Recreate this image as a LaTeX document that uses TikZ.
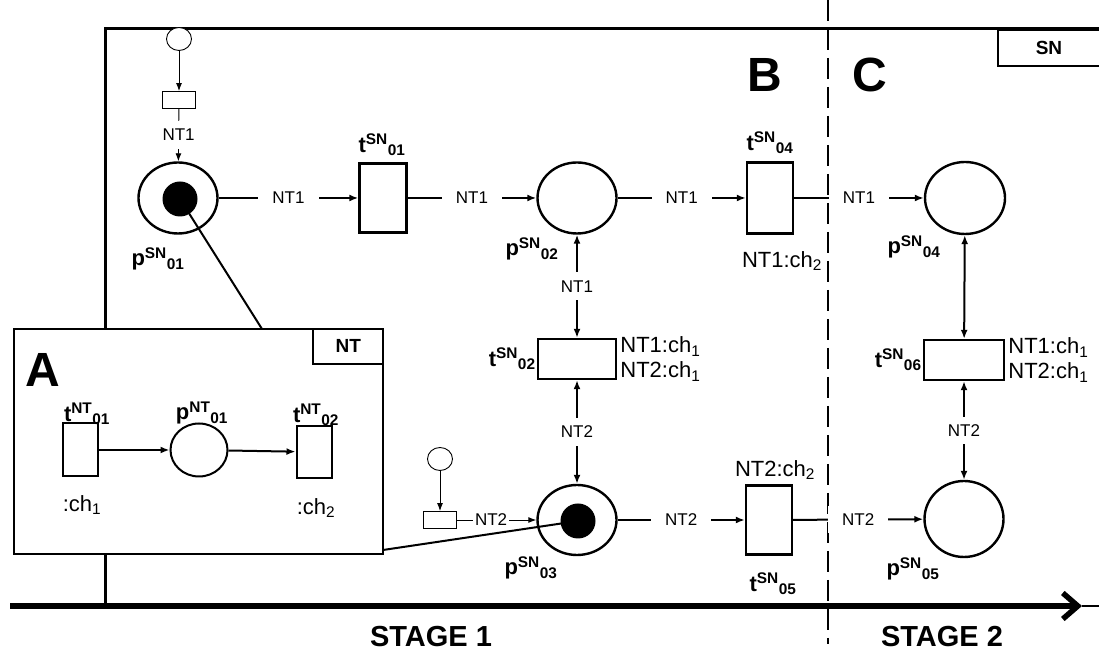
\documentclass[tikz,border=0pt]{standalone}
\usepackage{fontspec}
\setmainfont{Liberation Sans}
\usetikzlibrary{arrows.meta,shapes.geometric,calc}
\tikzset{
  place/.style={draw, ellipse, line width=2.4pt, fill=white, inner sep=0pt, minimum width=79pt, minimum height=71pt},
  trans/.style={draw, rectangle, line width=2.4pt, fill=white, inner sep=0pt},
  token/.style={circle, fill=black, inner sep=0pt, minimum size=35pt},
  srcplace/.style={draw, ellipse, line width=0.9pt, fill=white, inner sep=0pt, minimum width=25pt, minimum height=23pt},
  srctrans/.style={draw, rectangle, line width=0.9pt, fill=white, inner sep=0pt, minimum width=33pt, minimum height=17pt},
  arc/.style={-{Latex[length=9pt,width=7pt]}, line width=2pt},
  biarc/.style={{Latex[length=9pt,width=7pt]}-{Latex[length=9pt,width=7pt]}, line width=2pt},
  thinarc/.style={-{Latex[length=8pt,width=6pt]}, line width=0.9pt},
  arclbl/.style={fill=white, inner xsep=14pt, inner ysep=8pt, font=\fontsize{17}{20}\selectfont},
  netlbl/.style={font=\bfseries\fontsize{22}{26}\selectfont, inner sep=1pt},
  guard/.style={font=\fontsize{22}{25}\selectfont, inner sep=0pt},
  bigletter/.style={font=\bfseries\fontsize{48}{50}\selectfont},
  stagelbl/.style={font=\bfseries\fontsize{29}{32}\selectfont},
  tablbl/.style={draw, line width=2pt, fill=white, font=\bfseries\fontsize{19}{22}\selectfont}
}
\newcommand{\netname}[3]{\textbf{#1\textsuperscript{#2}\textsubscript{#3}}}

\begin{document}
\begin{tikzpicture}[x=1pt,y=1pt]
  \useasboundingbox (0,0) rectangle (1099,652);

  % SN frame and stages
  \draw[line width=3pt] (1110,623) -- (105,623) -- (105,46);
  \node[tablbl, minimum width=102pt, minimum height=36pt, anchor=north west] (sntab) at (997,623) {SN\hspace{6pt}};
  \draw[line width=2pt, dash pattern=on 21pt off 8pt] (828,652) -- (828,8);
  \coordinate (axisstart) at (10,46);
  \coordinate (axisend) at (1082,46);
  \coordinate (axistail) at (1099,46);
  \draw[line width=1.5pt] (axisend) -- (axistail);
  \draw[line width=5.5pt, -{Straight Barb[length=15pt,width=26pt]}] (axisstart) -- (axisend);
  \node[bigletter] (lblB) at (765,577) {B};
  \node[bigletter] (lblC) at (870,577) {C};
  \node[stagelbl] (stage1) at (431,15) {STAGE 1};
  \node[stagelbl] (stage2) at (942,15) {STAGE 2};

  % places and transitions of SN
  \node[srcplace] (src1) at (179,613) {};
  \node[srctrans] (srct1) at (179,552) {};
  \node[place] (p01) at (178,454) {};
  \node[token] (tok01) at (180,453) {};
  \node[trans, minimum width=47pt, minimum height=69pt] (t01) at (383,454) {};
  \node[place] (p02) at (577,454) {};
  \node[trans, minimum width=46pt, minimum height=71pt] (t04) at (770,454) {};
  \node[place, minimum width=80pt, minimum height=72pt] (p04) at (965,454) {};
  \node[trans, minimum width=78pt, minimum height=40pt] (t02) at (577,293) {};
  \node[trans, minimum width=80pt, minimum height=40pt] (t06) at (964,292) {};
  \node[srcplace] (src2) at (440,193) {};
  \node[srctrans] (srct2) at (440,132) {};
  \node[place, minimum height=70pt] (p03) at (577,132) {};
  \node[token] (tok03) at (578,131) {};
  \node[trans, minimum width=46pt, minimum height=69pt] (t05) at (769,132) {};
  \node[place, minimum width=79pt, minimum height=76pt] (p05) at (964,133) {};

  % names and guards
  \node[netlbl] at (158,393) {\netname{p}{SN}{01}};
  \node[netlbl] at (382,507) {\netname{t}{SN}{01}};
  \node[netlbl] at (532,403) {\netname{p}{SN}{02}};
  \node[netlbl] at (770,509) {\netname{t}{SN}{04}};
  \node[guard] at (782,391) {NT1:ch\textsubscript{2}};
  \node[netlbl] at (914,405) {\netname{p}{SN}{04}};
  \node[netlbl, anchor=east] at (t02.west) {\netname{t}{SN}{02}};
  \node[guard, anchor=west, align=left] at ($(t02.east)+(3,0)$) {NT1:ch\textsubscript{1}\\NT2:ch\textsubscript{1}};
  \node[netlbl, anchor=east] at (t06.west) {\netname{t}{SN}{06}};
  \node[guard, anchor=west, align=left] at ($(t06.east)+(3,0)$) {NT1:ch\textsubscript{1}\\NT2:ch\textsubscript{1}};
  \node[netlbl] at (531,84) {\netname{p}{SN}{03}};
  \node[guard] at (775,182) {NT2:ch\textsubscript{2}};
  \node[netlbl] at (773,68) {\netname{t}{SN}{05}};
  \node[netlbl] at (913,83) {\netname{p}{SN}{05}};

  % arcs of SN
  \draw[thinarc] (src1) -- (srct1);
  \draw[thinarc] (srct1) -- node[arclbl]{NT1} (p01);
  \draw[arc] (p01) -- node[arclbl]{NT1} (t01);
  \draw[arc] (t01) -- node[arclbl]{NT1} (p02);
  \draw[arc] (p02) -- node[arclbl]{NT1} (t04);
  \draw[arc] (t04) -- node[arclbl]{NT1} (p04);
  \draw[biarc] (p02) -- node[arclbl]{NT1} (t02);
  \draw[biarc] (t02) -- node[arclbl]{NT2} (p03);
  \draw[biarc] (p04) -- (t06);
  \draw[biarc] (t06) -- node[arclbl]{NT2} (p05);
  \draw[thinarc] (src2) -- (srct2);
  \draw[thinarc] (srct2) -- node[arclbl, inner xsep=2pt, pos=0.43]{NT2} (p03);
  \draw[arc] (p03) -- node[arclbl]{NT2} (t05);
  \draw[arc] (t05) -- node[arclbl]{NT2} (p05);

  % token of NT
  \node[draw, line width=2.4pt, fill=white, minimum width=369pt, minimum height=225pt, inner sep=0pt] (ntbox) at (198.5,210.5) {};
  \node[tablbl, minimum width=70pt, minimum height=35pt, anchor=north east] (nttab) at (ntbox.north east) {NT};
  \node[bigletter] (lblA) at (43,282) {A};
  \node[trans, minimum width=35pt, minimum height=53pt, line width=2pt] (tnt01) at (80,202) {};
  \node[place, minimum width=57pt, minimum height=53pt, line width=2pt] (pnt01) at (199,202) {};
  \node[trans, minimum width=35pt, minimum height=52pt, line width=2pt] (tnt02) at (314,200) {};
  \node[netlbl] at (87,238) {\netname{t}{NT}{01}};
  \node[netlbl] at (202,239) {\netname{p}{NT}{01}};
  \node[netlbl] at (316,237) {\netname{t}{NT}{02}};
  \node[guard] at (82,147) {:ch\textsubscript{1}};
  \node[guard] at (316,144) {:ch\textsubscript{2}};
  \draw[arc] (tnt01) -- (pnt01);
  \draw[arc] (pnt01) -- (tnt02);

  % links from tokens to NT
  \coordinate (ntjoin1) at (262,323);
  \coordinate (ntjoin2) at (383,102);
  \draw[line width=2pt] (tok01.center) -- (ntjoin1);
  \draw[line width=2pt] (tok03.center) -- (ntjoin2);
\end{tikzpicture}
\end{document}
